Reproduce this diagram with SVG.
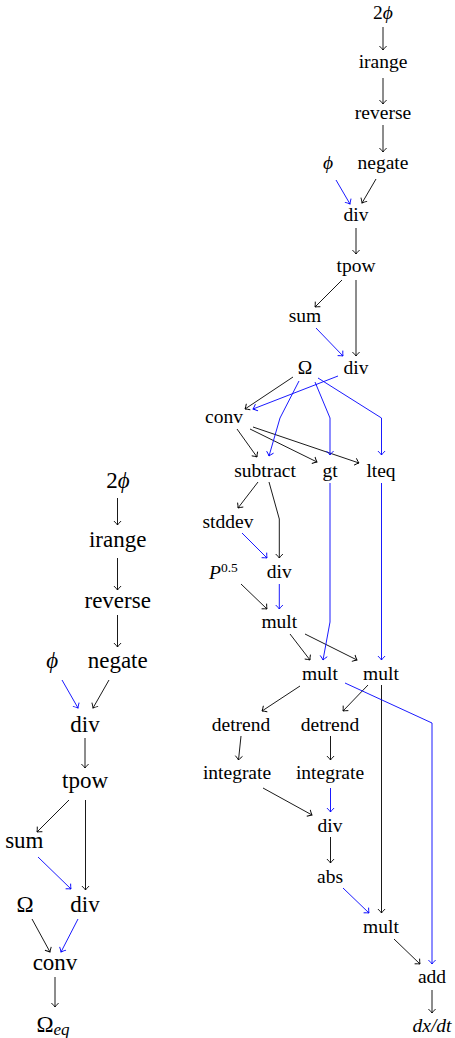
<svg xmlns="http://www.w3.org/2000/svg" width="455" height="1038" viewBox="0 0 455 1038">
<style>
.t{font-family:"Liberation Serif","DejaVu Serif",serif;font-size:19.5px;text-anchor:middle;fill:#000}
.L{font-size:23px}
.i{font-style:italic}
.e{fill:none;stroke:#000;stroke-width:0.9;marker-end:url(#ah)}
.b{fill:none;stroke:#0000ff;stroke-width:0.9;marker-end:url(#ahb)}
</style>
<defs>
<marker id="ah" viewBox="-6 -6 12 12" markerWidth="12" markerHeight="12" markerUnits="userSpaceOnUse" orient="auto" refX="0" refY="0" overflow="visible">
<path d="M-4,-3.6 Q-1.5,-1 0,0 Q-1.5,1 -4,3.6" fill="none" stroke="#000" stroke-width="0.9"/>
</marker>
<marker id="ahb" viewBox="-6 -6 12 12" markerWidth="12" markerHeight="12" markerUnits="userSpaceOnUse" orient="auto" refX="0" refY="0" overflow="visible">
<path d="M-4,-3.6 Q-1.5,-1 0,0 Q-1.5,1 -4,3.6" fill="none" stroke="#0000ff" stroke-width="0.9"/>
</marker>
</defs>
<rect width="455" height="1038" fill="#fff"/>
<g id="connectors">
<path class="e" d="M383,27 L383,50"/>
<path class="e" d="M383,78 L383,104"/>
<path class="e" d="M383,125 L383,152"/>
<path class="e" d="M376,179 L362,203"/>
<path class="e" d="M356,228 L356,254"/>
<path class="e" d="M342,280 L315,307"/>
<path class="e" d="M356,280 L356,356"/>
<path class="e" d="M293,377 L245,409"/>
<path class="e" d="M237,429 L257,457"/>
<path class="e" d="M250,429 L317,462"/>
<path class="e" d="M253,427 L359,463"/>
<path class="e" d="M258,482 L238,508"/>
<path class="e" d="M269,482 L279.3,519 L279.3,558"/>
<path class="e" d="M241,584 L267,609"/>
<path class="e" d="M290,634 L310,660"/>
<path class="e" d="M305,634 L357,660"/>
<path class="e" d="M300,686 L262,711"/>
<path class="e" d="M368,685 L343,711"/>
<path class="e" d="M381.5,685 L381.5,913"/>
<path class="e" d="M241,736 L238.5,760"/>
<path class="e" d="M330.5,736 L330.5,760"/>
<path class="e" d="M263,788 L312,815"/>
<path class="e" d="M330.5,837 L330.5,863"/>
<path class="e" d="M394,939 L420,964"/>
<path class="e" d="M432,990 L432,1013"/>
<path class="b" d="M336,180 L350,204"/>
<path class="b" d="M316,328 L343,356"/>
<path class="b" d="M338,376 L253,409"/>
<path class="b" d="M299,381 L280,418 L269,456"/>
<path class="b" d="M315,382 L330,418 L330,455"/>
<path class="b" d="M318,378 L381.5,418 L381.5,455"/>
<path class="b" d="M242,533 L267,558"/>
<path class="b" d="M279.3,584 L279.3,609"/>
<path class="b" d="M330,483 L330,622 L323,660"/>
<path class="b" d="M381.5,483 L381.5,660"/>
<path class="b" d="M345,683 L432,723 L432,964"/>
<path class="b" d="M330.5,788 L330.5,812"/>
<path class="b" d="M343,888 L369,913"/>
<path class="e" d="M117.5,498 L117.5,525"/>
<path class="e" d="M117.5,558 L117.5,590"/>
<path class="e" d="M117.5,615 L117.5,647"/>
<path class="e" d="M109,680 L93,708"/>
<path class="e" d="M85,738 L85,768"/>
<path class="e" d="M69,800 L37,832"/>
<path class="e" d="M85.5,800 L85.5,890"/>
<path class="e" d="M32,919 L50,952"/>
<path class="e" d="M55,977 L55,1007"/>
<path class="b" d="M62,680 L78,708"/>
<path class="b" d="M38,857 L71,889"/>
<path class="b" d="M78,919 L61,952"/>
</g>
<g id="r-2phi"><text class="t" x="383" y="18.5">2<tspan class="i">ϕ</tspan></text></g>
<g id="r-irange"><text class="t" x="383" y="68">irange</text></g>
<g id="r-reverse"><text class="t" x="383" y="119">reverse</text></g>
<g id="r-phi"><text class="t i" x="328" y="169">ϕ</text></g>
<g id="r-negate"><text class="t" x="383" y="169">negate</text></g>
<g id="r-div1"><text class="t" x="356" y="221">div</text></g>
<g id="r-tpow"><text class="t" x="356" y="271.5">tpow</text></g>
<g id="r-sum"><text class="t" x="305" y="322">sum</text></g>
<g id="r-omega"><text class="t" x="305" y="374">Ω</text></g>
<g id="r-div2"><text class="t" x="356" y="374">div</text></g>
<g id="r-conv"><text class="t" x="224" y="423">conv</text></g>
<g id="r-subtract"><text class="t" x="265" y="476.5">subtract</text></g>
<g id="r-gt"><text class="t" x="330" y="476.5">gt</text></g>
<g id="r-lteq"><text class="t" x="381" y="476.5">lteq</text></g>
<g id="r-stddev"><text class="t" x="228" y="527.5">stddev</text></g>
<g id="r-p05"><text class="t" x="209" y="579" style="text-anchor:start"><tspan class="i">P</tspan><tspan dy="-7.5" font-size="13.5">0.5</tspan></text></g>
<g id="r-div3"><text class="t" x="279.3" y="578">div</text></g>
<g id="r-mult1"><text class="t" x="279.3" y="628.3">mult</text></g>
<g id="r-mult2"><text class="t" x="320" y="680">mult</text></g>
<g id="r-mult3"><text class="t" x="381" y="680">mult</text></g>
<g id="r-detrend1"><text class="t" x="241" y="730.5">detrend</text></g>
<g id="r-detrend2"><text class="t" x="330" y="730.5">detrend</text></g>
<g id="r-integrate1"><text class="t" x="237" y="778.5">integrate</text></g>
<g id="r-integrate2"><text class="t" x="330" y="778.5">integrate</text></g>
<g id="r-div4"><text class="t" x="330" y="831.5">div</text></g>
<g id="r-abs"><text class="t" x="330" y="882.5">abs</text></g>
<g id="r-mult4"><text class="t" x="381" y="933.3">mult</text></g>
<g id="r-add"><text class="t" x="432" y="983.3">add</text></g>
<g id="r-dxdt"><text class="t i" x="432" y="1031.5">dx/dt</text></g>
<g id="l-2phi"><text class="t L" x="118" y="487.7">2<tspan class="i">ϕ</tspan></text></g>
<g id="l-irange"><text class="t L" x="117.7" y="547.3">irange</text></g>
<g id="l-reverse"><text class="t L" x="117.7" y="608.3">reverse</text></g>
<g id="l-phi"><text class="t L i" x="52.3" y="668.3">ϕ</text></g>
<g id="l-negate"><text class="t L" x="117.7" y="668.3">negate</text></g>
<g id="l-div1"><text class="t L" x="85" y="731.7">div</text></g>
<g id="l-tpow"><text class="t L" x="85" y="788.3">tpow</text></g>
<g id="l-sum"><text class="t L" x="24.3" y="848.3">sum</text></g>
<g id="l-omega"><text class="t L" x="25" y="911.7">Ω</text></g>
<g id="l-div2"><text class="t L" x="85" y="911.7">div</text></g>
<g id="l-conv"><text class="t L" x="55" y="970">conv</text></g>
<g id="l-omegaeq"><text class="t L" x="53" y="1031.5">Ω<tspan class="i" font-size="17" dy="3">eq</tspan></text></g>
</svg>
